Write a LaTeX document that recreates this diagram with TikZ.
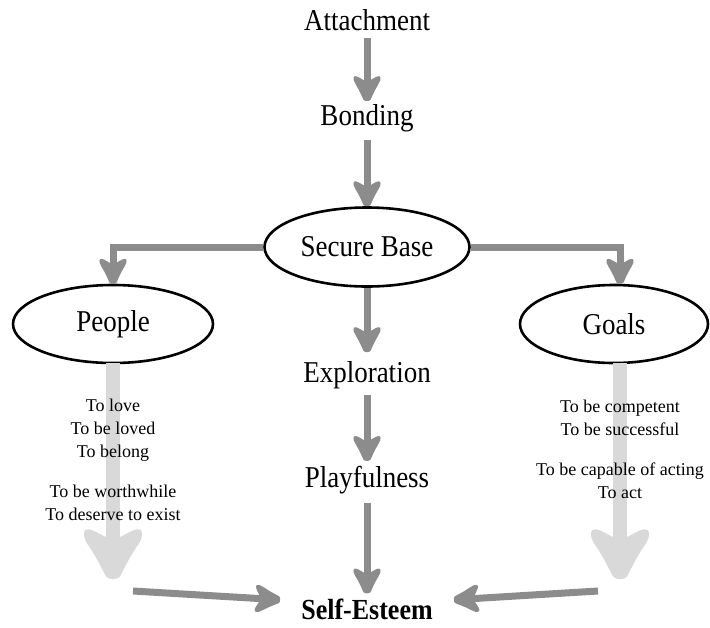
\documentclass[tikz,border=0pt]{standalone}
\usepackage{fontspec}
\usepackage{graphicx}
\setmainfont{Liberation Serif}
\usetikzlibrary{arrows.meta,shapes.geometric}
\definecolor{darkarr}{HTML}{8C8C8C}
\definecolor{lightarr}{HTML}{D9D9D9}
\newcommand{\tl}[1]{\scalebox{1}[1.12]{#1}}
\newcommand{\tulippath}[4]{%
 \def\tuL{#1pt}\def\tuW{#2pt}\def\tuh{#3pt}\def\tut{#4pt}%
 \pgfpathmoveto{\pgfpoint{-0.84*\tuL}{\tuh}}%
 \pgfpathcurveto{\pgfpoint{-0.92*\tuL}{0.55*\tuW}}{\pgfpoint{-1.04*\tuL}{0.85*\tuW}}{\pgfpoint{-0.98*\tuL}{\tuW}}%
 \pgfpathcurveto{\pgfpoint{-0.9*\tuL}{1.1*\tuW}}{\pgfpoint{-0.75*\tuL}{1.0*\tuW}}{\pgfpoint{-0.65*\tuL}{0.85*\tuW}}%
 \pgfpathcurveto{\pgfpoint{-0.4*\tuL}{0.55*\tuW}}{\pgfpoint{-0.15*\tuL}{\tut+0.1*\tuW}}{\pgfpoint{-0.05*\tuL}{\tut}}%
 \pgfpathcurveto{\pgfpoint{0.02*\tuL}{0.6*\tut}}{\pgfpoint{0.02*\tuL}{-0.6*\tut}}{\pgfpoint{-0.05*\tuL}{-\tut}}%
 \pgfpathcurveto{\pgfpoint{-0.15*\tuL}{-\tut-0.1*\tuW}}{\pgfpoint{-0.4*\tuL}{-0.55*\tuW}}{\pgfpoint{-0.65*\tuL}{-0.85*\tuW}}%
 \pgfpathcurveto{\pgfpoint{-0.75*\tuL}{-1.0*\tuW}}{\pgfpoint{-0.9*\tuL}{-1.1*\tuW}}{\pgfpoint{-0.98*\tuL}{-\tuW}}%
 \pgfpathcurveto{\pgfpoint{-1.04*\tuL}{-0.85*\tuW}}{\pgfpoint{-0.92*\tuL}{-0.55*\tuW}}{\pgfpoint{-0.84*\tuL}{-\tuh}}%
 \pgfpathclose
}
\pgfdeclarearrow{
  name=DarkTulip,
  setup code={
    \pgfarrowssettipend{0pt}
    \pgfarrowssetlineend{-12pt}
    \pgfarrowssetbackend{-26pt}
    \pgfarrowsupperhullpoint{-26pt}{15pt}
    \pgfarrowsupperhullpoint{0pt}{4pt}
  },
  drawing code={\pgfsetfillcolor{darkarr}\tulippath{25}{13}{3.5}{3.5}\pgfusepathqfill},
}
\pgfdeclarearrow{
  name=LightTulip,
  setup code={
    \pgfarrowssettipend{0pt}
    \pgfarrowssetlineend{-24pt}
    \pgfarrowssetbackend{-52pt}
    \pgfarrowsupperhullpoint{-52pt}{31pt}
    \pgfarrowsupperhullpoint{0pt}{8pt}
  },
  drawing code={\pgfsetfillcolor{lightarr}\tulippath{50}{28}{7}{7}\pgfusepathqfill},
}
\tikzset{
  big/.style={font=\fontsize{27}{30}\selectfont, inner sep=3pt},
  small/.style={font=\fontsize{18}{23}\selectfont, align=center, inner sep=0pt},
  oval/.style={big, draw=black, line width=2.6pt, ellipse, fill=white},
  darr/.style={draw=darkarr, line width=7pt, -{DarkTulip}},
  larr/.style={draw=lightarr, line width=14pt, -{LightTulip}},
}
\begin{document}
\begin{tikzpicture}[x=1pt,y=-1pt]
\useasboundingbox (0,0) rectangle (710,627);
\node[big] (att) at (367,20) {\tl{Attachment}};
\node[big] (bond) at (367,118) {\tl{Bonding}};
\node[oval, minimum width=205pt, minimum height=79pt] (sb) at (367,247) {\tl{Secure Base}};
\node[oval, minimum width=200pt, minimum height=78pt] (people) at (113,324) {\tl{People}};
\node[oval, minimum width=188pt, minimum height=78pt] (goals) at (614,324) {\tl{Goals}};
\node[big] (expl) at (367,375) {\tl{Exploration}};
\node[big] (play) at (367,480) {\tl{Playfulness}};
\node[big, inner sep=1pt, font=\fontsize{26}{28}\selectfont\bfseries] (se) at (367,609) {\tl{Self-Esteem}};
\coordinate (ptip) at (113,579);
\coordinate (gtip) at (620,579);
\coordinate (lstart) at (133,591);
\coordinate (rstart) at (598,591);
% light arrows
\draw[larr] ([yshift=1pt]people.south) -- (ptip);
\draw[larr] ([xshift=6pt,yshift=1pt]goals.south) -- (gtip);
% dark arrows
\draw[darr, shorten <=4pt] (att) -- (bond);
\draw[darr, shorten <=5pt] (bond) -- (sb.north);
\draw[darr] (sb.west) -| (people.north);
\draw[darr] (sb.east) -| ([xshift=6pt]goals.north);
\draw[darr, shorten >=6pt] (sb.south) -- (expl);
\draw[darr, shorten <=3pt, shorten >=2pt] (expl) -- (play);
\draw[darr, shorten <=6pt, shorten >=4pt] (play) -- (se);
\draw[darr, shorten >=20pt] (lstart) -- ([yshift=8pt]se.west);
\draw[darr, shorten >=20pt] (rstart) -- ([yshift=8pt]se.east);
% texts
\node[small] (p1) at (113,430) {To love\\To be loved\\To belong};
\node[small] (p2) at (113,503) {To be worthwhile\\To deserve to exist};
\node[small] (g1) at (620,418) {To be competent\\To be successful};
\node[small] (g2) at (620,481) {To be capable of acting\\To act};
\end{tikzpicture}
\end{document}
